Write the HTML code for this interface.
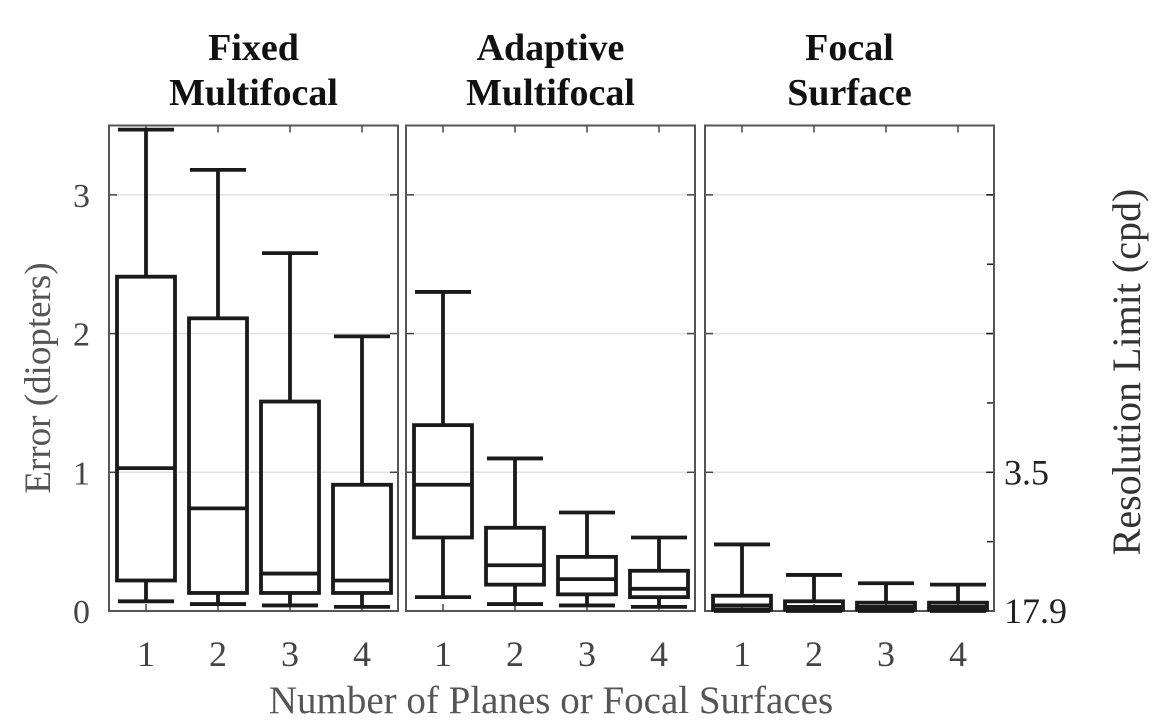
<!DOCTYPE html>
<html><head><meta charset="utf-8"><style>
body{margin:0;background:#fff}
svg{display:block;font-family:"Liberation Serif",serif}
</style></head><body>
<svg id="c" width="1175" height="727"></svg>
<script>
const panels=["Fixed|Multifocal","Adaptive|Multifocal","Focal|Surface"];
const categories=["1","2","3","4"];
const whiskerHigh=[[3.47,3.18,2.58,1.98],[2.30,1.10,0.71,0.53],[0.48,0.26,0.20,0.19]];
const q3=[[2.41,2.11,1.51,0.91],[1.34,0.60,0.39,0.29],[0.11,0.07,0.06,0.06]];
const median=[[1.03,0.74,0.27,0.22],[0.91,0.33,0.23,0.16],[0.04,0.03,0.03,0.03]];
const q1=[[0.22,0.13,0.13,0.13],[0.53,0.19,0.12,0.10],[0.01,0.01,0.01,0.01]];
const whiskerLow=[[0.07,0.05,0.04,0.03],[0.10,0.05,0.04,0.03],[0.00,0.00,0.00,0.00]];
const yTicks=[0,1,2,3];
const rightTickLabels=[["3.5",1],["17.9",0]];
const svg=document.getElementById('c');const NS='http://www.w3.org/2000/svg';
function el(t,a,p){const e=document.createElementNS(NS,t);for(const k in a)e.setAttribute(k,a[k]);(p||svg).appendChild(e);return e;}
const y0=611,y1=125.5,ymax=3.5;const y=v=>y0-(v/ymax)*(y0-y1);
const pl=[109,406,705],pw=289;
const x=(p,i)=>pl[p]+37+i*72;
panels.forEach((t,p)=>{
 const g=el('g',{});
 [1,2,3].forEach(v=>{const l=el('line',{x1:pl[p],x2:pl[p]+pw,y1:y(v),y2:y(v),stroke:'#e2e2e2','stroke-width':1.5},g);});
 [1,2,3].forEach(v=>{
  el('line',{x1:pl[p],x2:pl[p]+8,y1:y(v),y2:y(v),stroke:'#444','stroke-width':1.5},g);
  el('line',{x1:pl[p]+pw,x2:pl[p]+pw-8,y1:y(v),y2:y(v),stroke:'#444','stroke-width':1.5},g);
 });
 if(p===2){for(let v=0.5;v<ymax;v+=0.5){el('line',{x1:pl[p]+pw,x2:pl[p]+pw-7,y1:y(v),y2:y(v),stroke:'#222','stroke-width':1.5},g);}}
 const fr=el('rect',{x:pl[p],y:y1,width:pw,height:y0-y1,fill:'none',stroke:'#555','stroke-width':2},g);
 const lines=t.split('|');
 lines.forEach((s,k)=>{const tt=el('text',{x:pl[p]+pw/2,y:60+k*45,'text-anchor':'middle','font-size':38,'font-weight':'bold',fill:'#111'},g);tt.textContent=s;});
 categories.forEach((c,i)=>{
  const cx=x(p,i),hw=29,cw=28;
  el('line',{x1:cx,x2:cx,y1:y1,y2:y1+7,stroke:'#444','stroke-width':1.5},g);
  el('line',{x1:cx,x2:cx,y1:y0,y2:y0-7,stroke:'#444','stroke-width':1.5},g);
  const b=el('g',{},g);
  const s={stroke:'#1a1a1a','stroke-width':3.8,fill:'none'};
  el('line',Object.assign({x1:cx,x2:cx,y1:y(whiskerHigh[p][i]),y2:y(q3[p][i])},s),b);
  el('line',Object.assign({x1:cx,x2:cx,y1:y(q1[p][i]),y2:y(whiskerLow[p][i])},s),b);
  el('line',Object.assign({x1:cx-cw,x2:cx+cw,y1:y(whiskerHigh[p][i]),y2:y(whiskerHigh[p][i])},s),b);
  el('line',Object.assign({x1:cx-cw,x2:cx+cw,y1:y(whiskerLow[p][i]),y2:y(whiskerLow[p][i])},s),b);
  el('rect',Object.assign({x:cx-hw,y:y(q3[p][i]),width:hw*2,height:y(q1[p][i])-y(q3[p][i])},s),b);
  el('line',Object.assign({x1:cx-hw,x2:cx+hw,y1:y(median[p][i]),y2:y(median[p][i])},s),b);
  const lt=el('text',{x:cx,y:666,'text-anchor':'middle','font-size':36,fill:'#444'},g);lt.textContent=c;
 });
});
yTicks.forEach(v=>{const t=el('text',{x:90,y:y(v)+12,'text-anchor':'end','font-size':34,fill:'#444'});t.textContent=v;});
rightTickLabels.forEach(([s,v])=>{const t=el('text',{x:1004,y:y(v)+12,'font-size':36,fill:'#222'});t.textContent=s;});
let t=el('text',{x:551,y:713,'text-anchor':'middle','font-size':39,fill:'#555'});t.textContent='Number of Planes or Focal Surfaces';
t=el('text',{x:0,y:0,'text-anchor':'middle','font-size':37,fill:'#555',transform:'translate(50,378) rotate(-90)'});t.textContent='Error (diopters)';
t=el('text',{x:0,y:0,'text-anchor':'middle','font-size':40,fill:'#333',transform:'translate(1140,372) rotate(-90)'});t.textContent='Resolution Limit (cpd)';
</script>
</body></html>
